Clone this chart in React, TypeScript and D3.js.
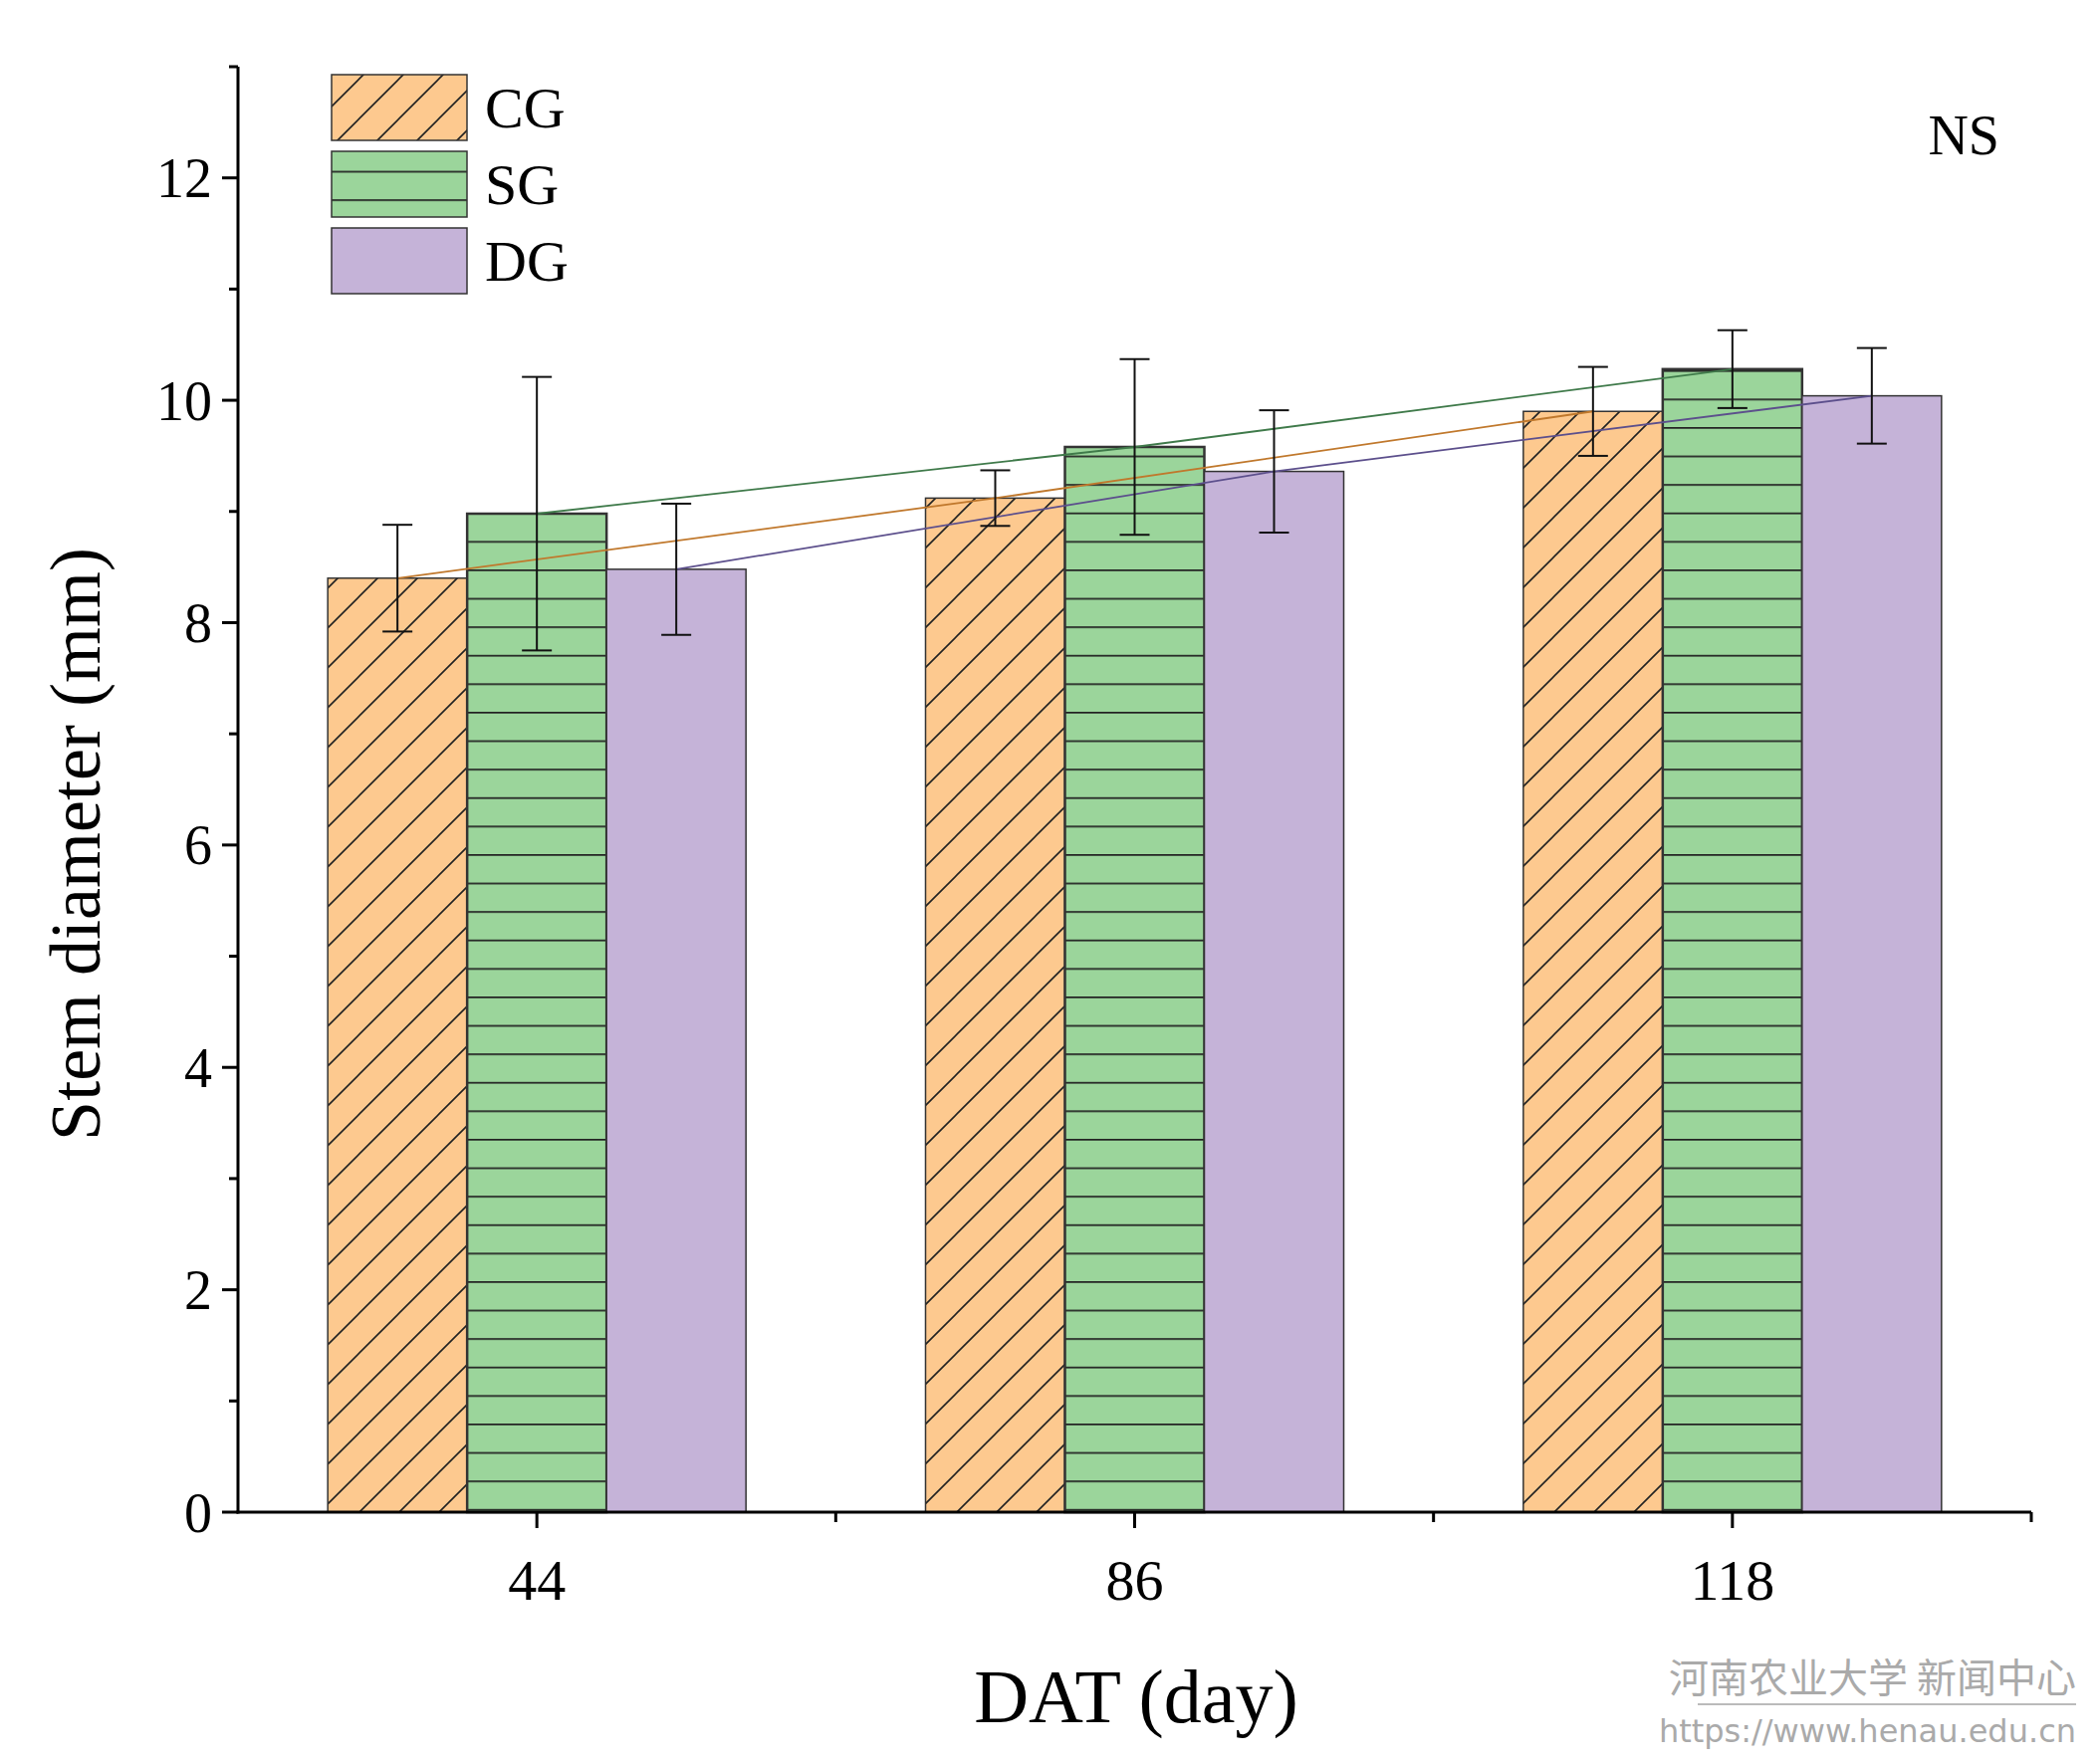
import React from "react";
import * as d3 from "d3";

const categories = ["44", "86", "118"];
const seriesNames = ["CG", "SG", "DG"];
const cgValues = [8.4, 9.12, 9.9];
const cgErrors = [0.48, 0.25, 0.4];
const sgValues = [8.98, 9.58, 10.28];
const sgErrors = [1.23, 0.79, 0.35];
const dgValues = [8.48, 9.36, 10.04];
const dgErrors = [0.59, 0.55, 0.43];
const yTicks = [0, 2, 4, 6, 8, 10, 12];

const W = 2109, H = 1772;
const L = 239, R = 2040, T = 67, B = 1519;
const fills = ["#fdc98f", "#9bd59b", "#c5b3d8"];
const lineColors = ["#c0782c", "#3f7a4a", "#5c4f8c"];
const patterns = ["url(#diag)", "url(#horiz)", "none"];
const font = "'Liberation Serif','Times New Roman',serif";

export default function App() {
  const x = d3.scaleBand().domain(categories).range([L, R]);
  const y = d3.scaleLinear().domain([0, 13]).range([B, T]);
  const barW = 140;
  const series = [
    { v: cgValues, e: cgErrors },
    { v: sgValues, e: sgErrors },
    { v: dgValues, e: dgErrors },
  ];
  const cx = (ci: number, si: number) => x(categories[ci])! + x.bandwidth() / 2 + (si - 1) * barW;
  const line = d3.line<[number, number]>();
  return (
    <svg width={W} height={H} style={{ position: "absolute", left: 0, top: 0, background: "#fff" }} fontFamily={font}>
      <defs>
        <pattern id="diag" patternUnits="userSpaceOnUse" width="40" height="40">
          <path d="M-10,10 L10,-10 M0,40 L40,0 M30,50 L50,30" stroke="#222" strokeWidth="1.6" />
        </pattern>
        <pattern id="horiz" patternUnits="userSpaceOnUse" width="40" height="28.6">
          <path d="M0,0.8 L40,0.8" stroke="#222" strokeWidth="2" />
        </pattern>
      </defs>
      {series.map((s, si) =>
        s.v.map((v, ci) => {
          const x0 = cx(ci, si) - barW / 2;
          return (
            <g key={`b${si}-${ci}`}>
              <rect x={x0} y={y(v)} width={barW} height={B - y(v)} fill={fills[si]} />
              {patterns[si] !== "none" && <rect x={x0} y={y(v)} width={barW} height={B - y(v)} fill={patterns[si]} />}
              <rect x={x0} y={y(v)} width={barW} height={B - y(v)} fill="none" stroke="#333" strokeWidth={si === 1 ? 2.5 : 1.5} />
            </g>
          );
        })
      )}
      {series.map((s, si) => (
        <path key={`l${si}`} d={line(s.v.map((v, ci) => [cx(ci, si), y(v)]))!} stroke={lineColors[si]} strokeWidth={1.8} fill="none" />
      ))}
      {series.map((s, si) =>
        s.v.map((v, ci) => {
          const c = cx(ci, si);
          return (
            <g key={`e${si}-${ci}`} stroke="#111" strokeWidth={2}>
              <line x1={c} x2={c} y1={y(v + s.e[ci])} y2={y(v - s.e[ci])} />
              <line x1={c - 15} x2={c + 15} y1={y(v + s.e[ci])} y2={y(v + s.e[ci])} />
              <line x1={c - 15} x2={c + 15} y1={y(v - s.e[ci])} y2={y(v - s.e[ci])} />
            </g>
          );
        })
      )}
      <line x1={L} x2={L} y1={T} y2={B + 1.5} stroke="#000" strokeWidth={3} />
      <line x1={L - 1.5} x2={R} y1={B} y2={B} stroke="#000" strokeWidth={3} />
      {d3.range(0, 14).map((t) => (
        <line key={`yt${t}`} x1={L - (t % 2 === 0 ? 16 : 9)} x2={L} y1={y(t)} y2={y(t)} stroke="#000" strokeWidth={3} />
      ))}
      {yTicks.map((t) => (
        <text key={`yl${t}`} x={L - 26} y={y(t)} dy="0.35em" textAnchor="end" fontSize={56}>{t}</text>
      ))}
      {categories.map((c) => (
        <g key={`xt${c}`}>
          <line x1={x(c)! + x.bandwidth() / 2} x2={x(c)! + x.bandwidth() / 2} y1={B} y2={B + 16} stroke="#000" strokeWidth={3} />
          <text x={x(c)! + x.bandwidth() / 2} y={B + 88} textAnchor="middle" fontSize={58}>{c}</text>
        </g>
      ))}
      {categories.map((c) => (
        <line key={`xm${c}`} x1={x(c)! + x.bandwidth()} x2={x(c)! + x.bandwidth()} y1={B} y2={B + 10} stroke="#000" strokeWidth={3} />
      ))}
      <text transform={`translate(100,${(T + B) / 2 + 55}) rotate(-90)`} textAnchor="middle" fontSize={72}>Stem diameter (mm)</text>
      <text x={1141} y={1730} textAnchor="middle" fontSize={76}>DAT (day)</text>
      <text x={2008} y={155} textAnchor="end" fontSize={56}>NS</text>
      {seriesNames.map((n, i) => (
        <g key={`lg${n}`}>
          <rect x={333} y={75 + i * 77} width={136} height={66} fill={fills[i]} />
          {patterns[i] !== "none" && <rect x={333} y={75 + i * 77} width={136} height={66} fill={patterns[i]} />}
          <rect x={333} y={75 + i * 77} width={136} height={66} fill="none" stroke="#333" strokeWidth={1.5} />
          <text x={487} y={108 + i * 77} dy="0.35em" fontSize={58}>{n}</text>
        </g>
      ))}
      <text x={2085} y={1700} textAnchor="end" fontSize={40} fill="#aaa" fontFamily="'Noto Sans CJK SC',sans-serif">河南农业大学 新闻中心</text>
      <line x1={1705} x2={2085} y1={1712} y2={1712} stroke="#bbb" strokeWidth={2} />
      <text x={2085} y={1750} textAnchor="end" fontSize={32} fill="#aaa" fontFamily="'DejaVu Sans',sans-serif">https://www.henau.edu.cn</text>
    </svg>
  );
}
